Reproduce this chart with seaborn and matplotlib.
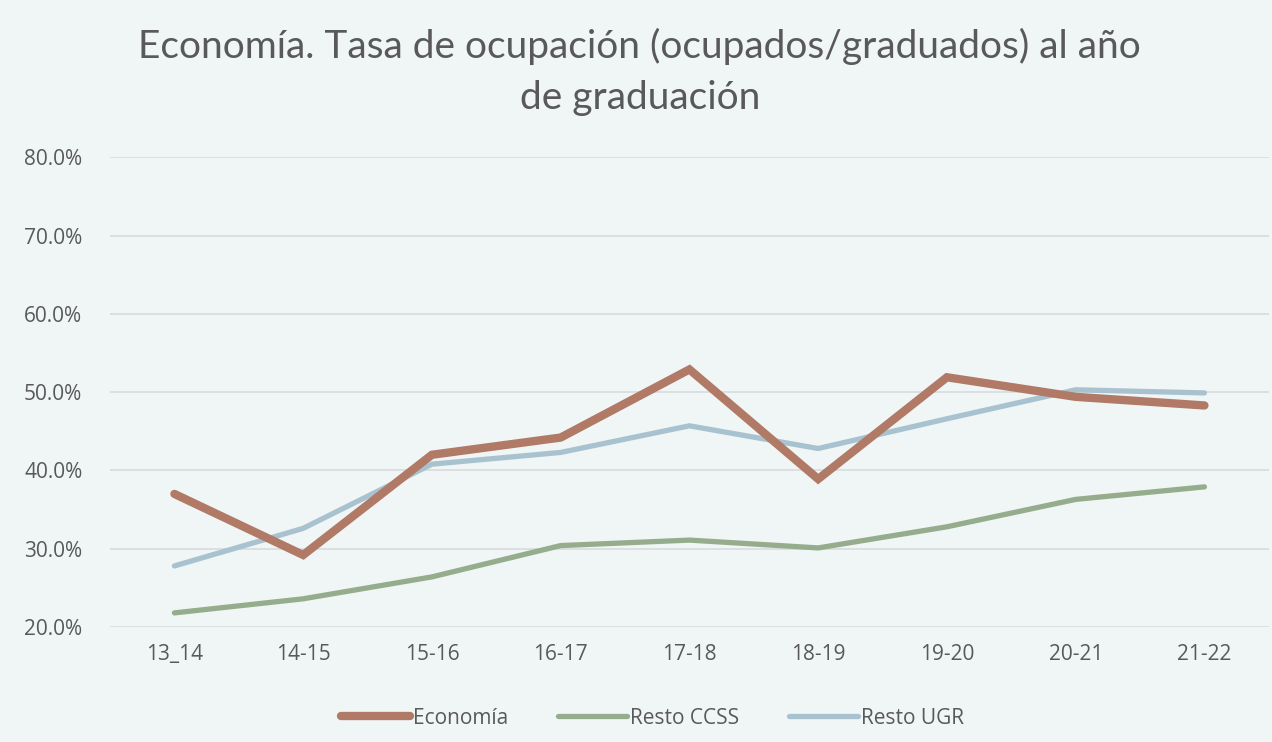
import matplotlib
matplotlib.use("Agg")
import matplotlib.pyplot as plt
import seaborn as sns
import pandas as pd
from matplotlib.ticker import FuncFormatter
from matplotlib.lines import Line2D

categories = ["13_14", "14-15", "15-16", "16-17", "17-18", "18-19", "19-20", "20-21", "21-22"]
economia = [37.0, 29.2, 42.0, 44.2, 52.9, 38.9, 51.9, 49.4, 48.3]
resto_ccss = [21.8, 23.6, 26.4, 30.4, 31.1, 30.1, 32.8, 36.3, 37.9]
resto_ugr = [27.8, 32.6, 40.8, 42.3, 45.7, 42.8, 46.6, 50.3, 49.9]
series_names = ["Economía", "Resto CCSS", "Resto UGR"]
yticks = [20, 30, 40, 50, 60, 70, 80]
title = "Economía. Tasa de ocupación (ocupados/graduados) al año\nde graduación"

colors = {"Economía": "#b07a66", "Resto CCSS": "#95ad8d", "Resto UGR": "#a9c2cf"}
widths = {"Economía": 6.0, "Resto CCSS": 3.8, "Resto UGR": 3.8}

rows = []
for name, vals in zip(series_names, [economia, resto_ccss, resto_ugr]):
    for c, v in zip(categories, vals):
        rows.append({"cat": c, "val": v, "serie": name})
df = pd.DataFrame(rows)

sns.set_theme(style="white")
bg = "#f0f5f6"
plt.rcParams["font.family"] = ["Open Sans", "DejaVu Sans"]

fig = plt.figure(figsize=(12.72, 7.42), dpi=100, facecolor=bg)
ax = fig.add_axes([0.0865, 0.155, 0.911, 0.633])
ax.set_facecolor(bg)

draw_order = ["Resto CCSS", "Resto UGR", "Economía"]
for name in draw_order:
    sub = df[df["serie"] == name]
    sns.lineplot(data=sub, x="cat", y="val", ax=ax, color=colors[name],
                 linewidth=widths[name], sort=False, legend=False,
                 solid_capstyle="round", solid_joinstyle="miter")

ax.set_xlim(-0.5, len(categories) - 0.5)
ax.set_ylim(20, 80)
ax.set_yticks(yticks)
ax.yaxis.set_major_formatter(FuncFormatter(lambda v, p: f"{v:.1f}%"))
ax.grid(axis="y", color="#d9dddf", linewidth=1.3)
ax.set_axisbelow(True)
for s in ax.spines.values():
    s.set_visible(False)
ax.tick_params(axis="both", length=0, labelsize=15, colors="#595959")
ax.tick_params(axis="x", pad=12)
ax.tick_params(axis="y", pad=20)
ax.set_xlabel("")
ax.set_ylabel("")

fig.text(0.503, 0.903, title, ha="center", va="center", fontsize=28,
         color="#595959", family=["Lato", "DejaVu Sans"],
         linespacing=1.5)

handles = [Line2D([0], [0], color=colors[n], linewidth=widths[n], solid_capstyle="round")
           for n in series_names]
fig.legend(handles, series_names, loc="center", bbox_to_anchor=(0.513, 0.032), ncol=3,
           frameon=False, fontsize=15, handlelength=3.3, handletextpad=0.15,
           columnspacing=2.4, labelcolor="#595959")

fig.savefig("out.png", dpi=100, facecolor=bg)
